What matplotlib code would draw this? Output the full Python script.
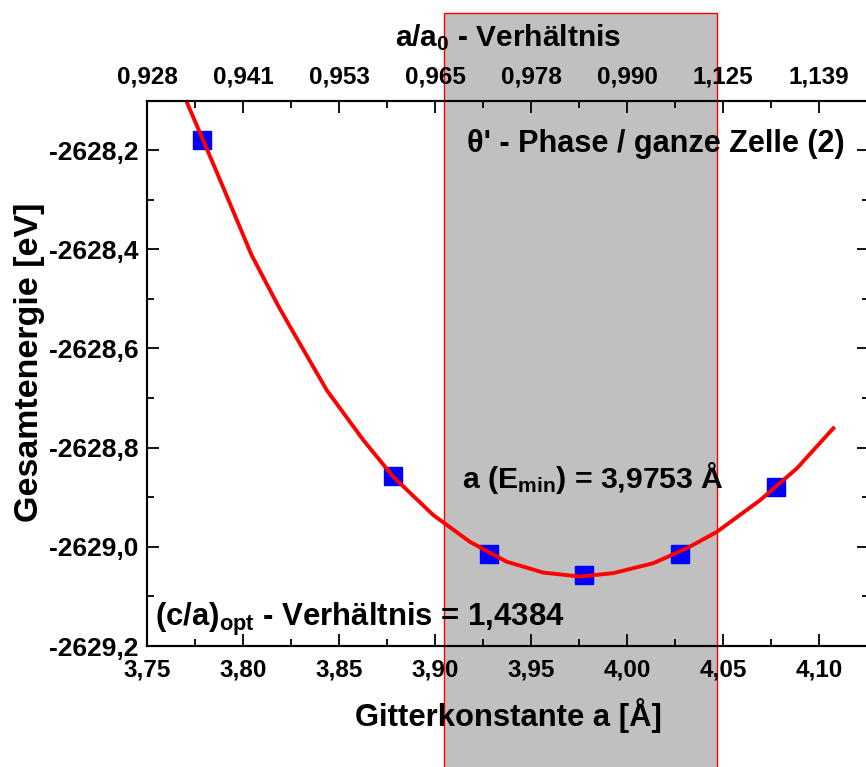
import matplotlib
matplotlib.use("Agg")
import matplotlib.pyplot as plt
from matplotlib.ticker import MultipleLocator

plt.rcParams['font.family'] = ['Liberation Sans', 'DejaVu Sans']
plt.rcParams['font.weight'] = 'bold'
plt.rcParams['mathtext.fontset'] = 'custom'
plt.rcParams['mathtext.rm'] = 'Liberation Sans:bold'
plt.rcParams['mathtext.it'] = 'Liberation Sans:bold'
plt.rcParams['mathtext.bf'] = 'Liberation Sans:bold'

# Calculated total energies
lattice_a = [3.7785, 3.8783, 3.9281, 3.9778, 4.0276, 4.0774]
energy = [-2628.180, -2628.857, -2629.015, -2629.057, -2629.015, -2628.880]

# Fitted E(a) curve
fit_a = [3.7690, 3.7707, 3.7865, 3.8045, 3.8182, 3.8245, 3.8436, 3.8627, 3.8783,
         3.8991, 3.9182, 3.9373, 3.9564, 3.9755, 3.9929, 4.0137, 4.0311, 4.0467,
         4.0693, 4.0884, 4.1074]
fit_e = [-2628.080, -2628.103, -2628.246, -2628.412, -2628.513, -2628.556, -2628.684,
         -2628.785, -2628.859, -2628.936, -2628.990, -2629.030, -2629.052, -2629.060,
         -2629.053, -2629.033, -2629.003, -2628.970, -2628.906, -2628.842, -2628.761]

# Highlighted lattice-constant range
band_a = [3.9047, 4.0469]

x_ticks = [3.75, 3.80, 3.85, 3.90, 3.95, 4.00, 4.05, 4.10]
x_tick_labels = ['3,75', '3,80', '3,85', '3,90', '3,95', '4,00', '4,05', '4,10']
top_tick_labels = ['0,928', '0,941', '0,953', '0,965', '0,978', '0,990', '1,125', '1,139']
y_ticks = [-2629.2, -2629.0, -2628.8, -2628.6, -2628.4, -2628.2]
y_tick_labels = ['-2629,2', '-2629,0', '-2628,8', '-2628,6', '-2628,4', '-2628,2']

W, H = 866, 767
fig = plt.figure(figsize=(W / 100, H / 100), dpi=100)
left, right, bottom, top = 147, 869, 646, 101
ax = fig.add_axes([left / W, (H - bottom) / H, (right - left) / W, (bottom - top) / H])
ax.set_facecolor('none')

ax.set_xlim(3.75, 4.126)
ax.set_ylim(-2629.2, -2628.101)

ax.axvspan(band_a[0], band_a[1], ymin=-0.25, ymax=1.1615, clip_on=False,
           facecolor='#C0C0C0', edgecolor='#FF0000', lw=1.0, zorder=0)

ax.plot(lattice_a, energy, linestyle='none', marker='s', ms=12.5,
        color='#0000FF', mec='#0000FF', zorder=3)
ax.plot(fit_a, fit_e, color='#FF0000', lw=2.8, zorder=4)

ax.set_xticks(x_ticks)
ax.set_xticklabels(x_tick_labels)
ax.set_yticks(y_ticks)
ax.set_yticklabels(y_tick_labels)
ax.xaxis.set_minor_locator(MultipleLocator(0.025))
ax.yaxis.set_minor_locator(MultipleLocator(0.1))

for sp in ax.spines.values():
    sp.set_linewidth(1.5)

ax.tick_params(which='both', direction='in', top=False, right=True, width=1.3)
ax.tick_params(which='major', length=8.5)
ax.tick_params(which='minor', length=5)
ax.tick_params(axis='x', labelsize=17.5, pad=9)
ax.tick_params(axis='y', labelsize=19, pad=6)

ax.set_xlabel('Gitterkonstante a [Å]', fontsize=22.3, fontweight='bold', labelpad=12)
ax.set_ylabel('Gesamtenergie [eV]', fontsize=24.5, fontweight='bold', labelpad=3)
ax.yaxis.label.set_y(0.52)

top_ax = ax.twiny()
top_ax.set_xlim(ax.get_xlim())
top_ax.set_xticks(x_ticks)
top_ax.set_xticklabels(top_tick_labels)
top_ax.xaxis.set_minor_locator(MultipleLocator(0.025))
top_ax.tick_params(which='both', direction='in', width=1.3, labelsize=17.5, pad=9)
top_ax.tick_params(which='major', length=8.5)
top_ax.tick_params(which='minor', length=5)
top_ax.set_xlabel(r'a/a$_0$ - Verhältnis', fontsize=21.5, fontweight='bold', labelpad=14)
for sp in top_ax.spines.values():
    sp.set_linewidth(1.5)

ax.text(0.443, 0.906, "θ' - Phase / ganze Zelle (2)", transform=ax.transAxes,
        fontsize=22.1, fontweight='bold', ha='left', va='baseline', zorder=5)
ax.text(0.436, 0.290, r'a (E$_{\mathrm{min}}$) = 3,9753 Å', transform=ax.transAxes,
        fontsize=21.7, fontweight='bold', ha='left', va='baseline', zorder=5)
ax.text(0.011, 0.037, r'(c/a)$_{\mathrm{opt}}$ - Verhältnis = 1,4384', transform=ax.transAxes,
        fontsize=22.4, fontweight='bold', ha='left', va='baseline', zorder=5)

fig.savefig('out.png', dpi=100)
